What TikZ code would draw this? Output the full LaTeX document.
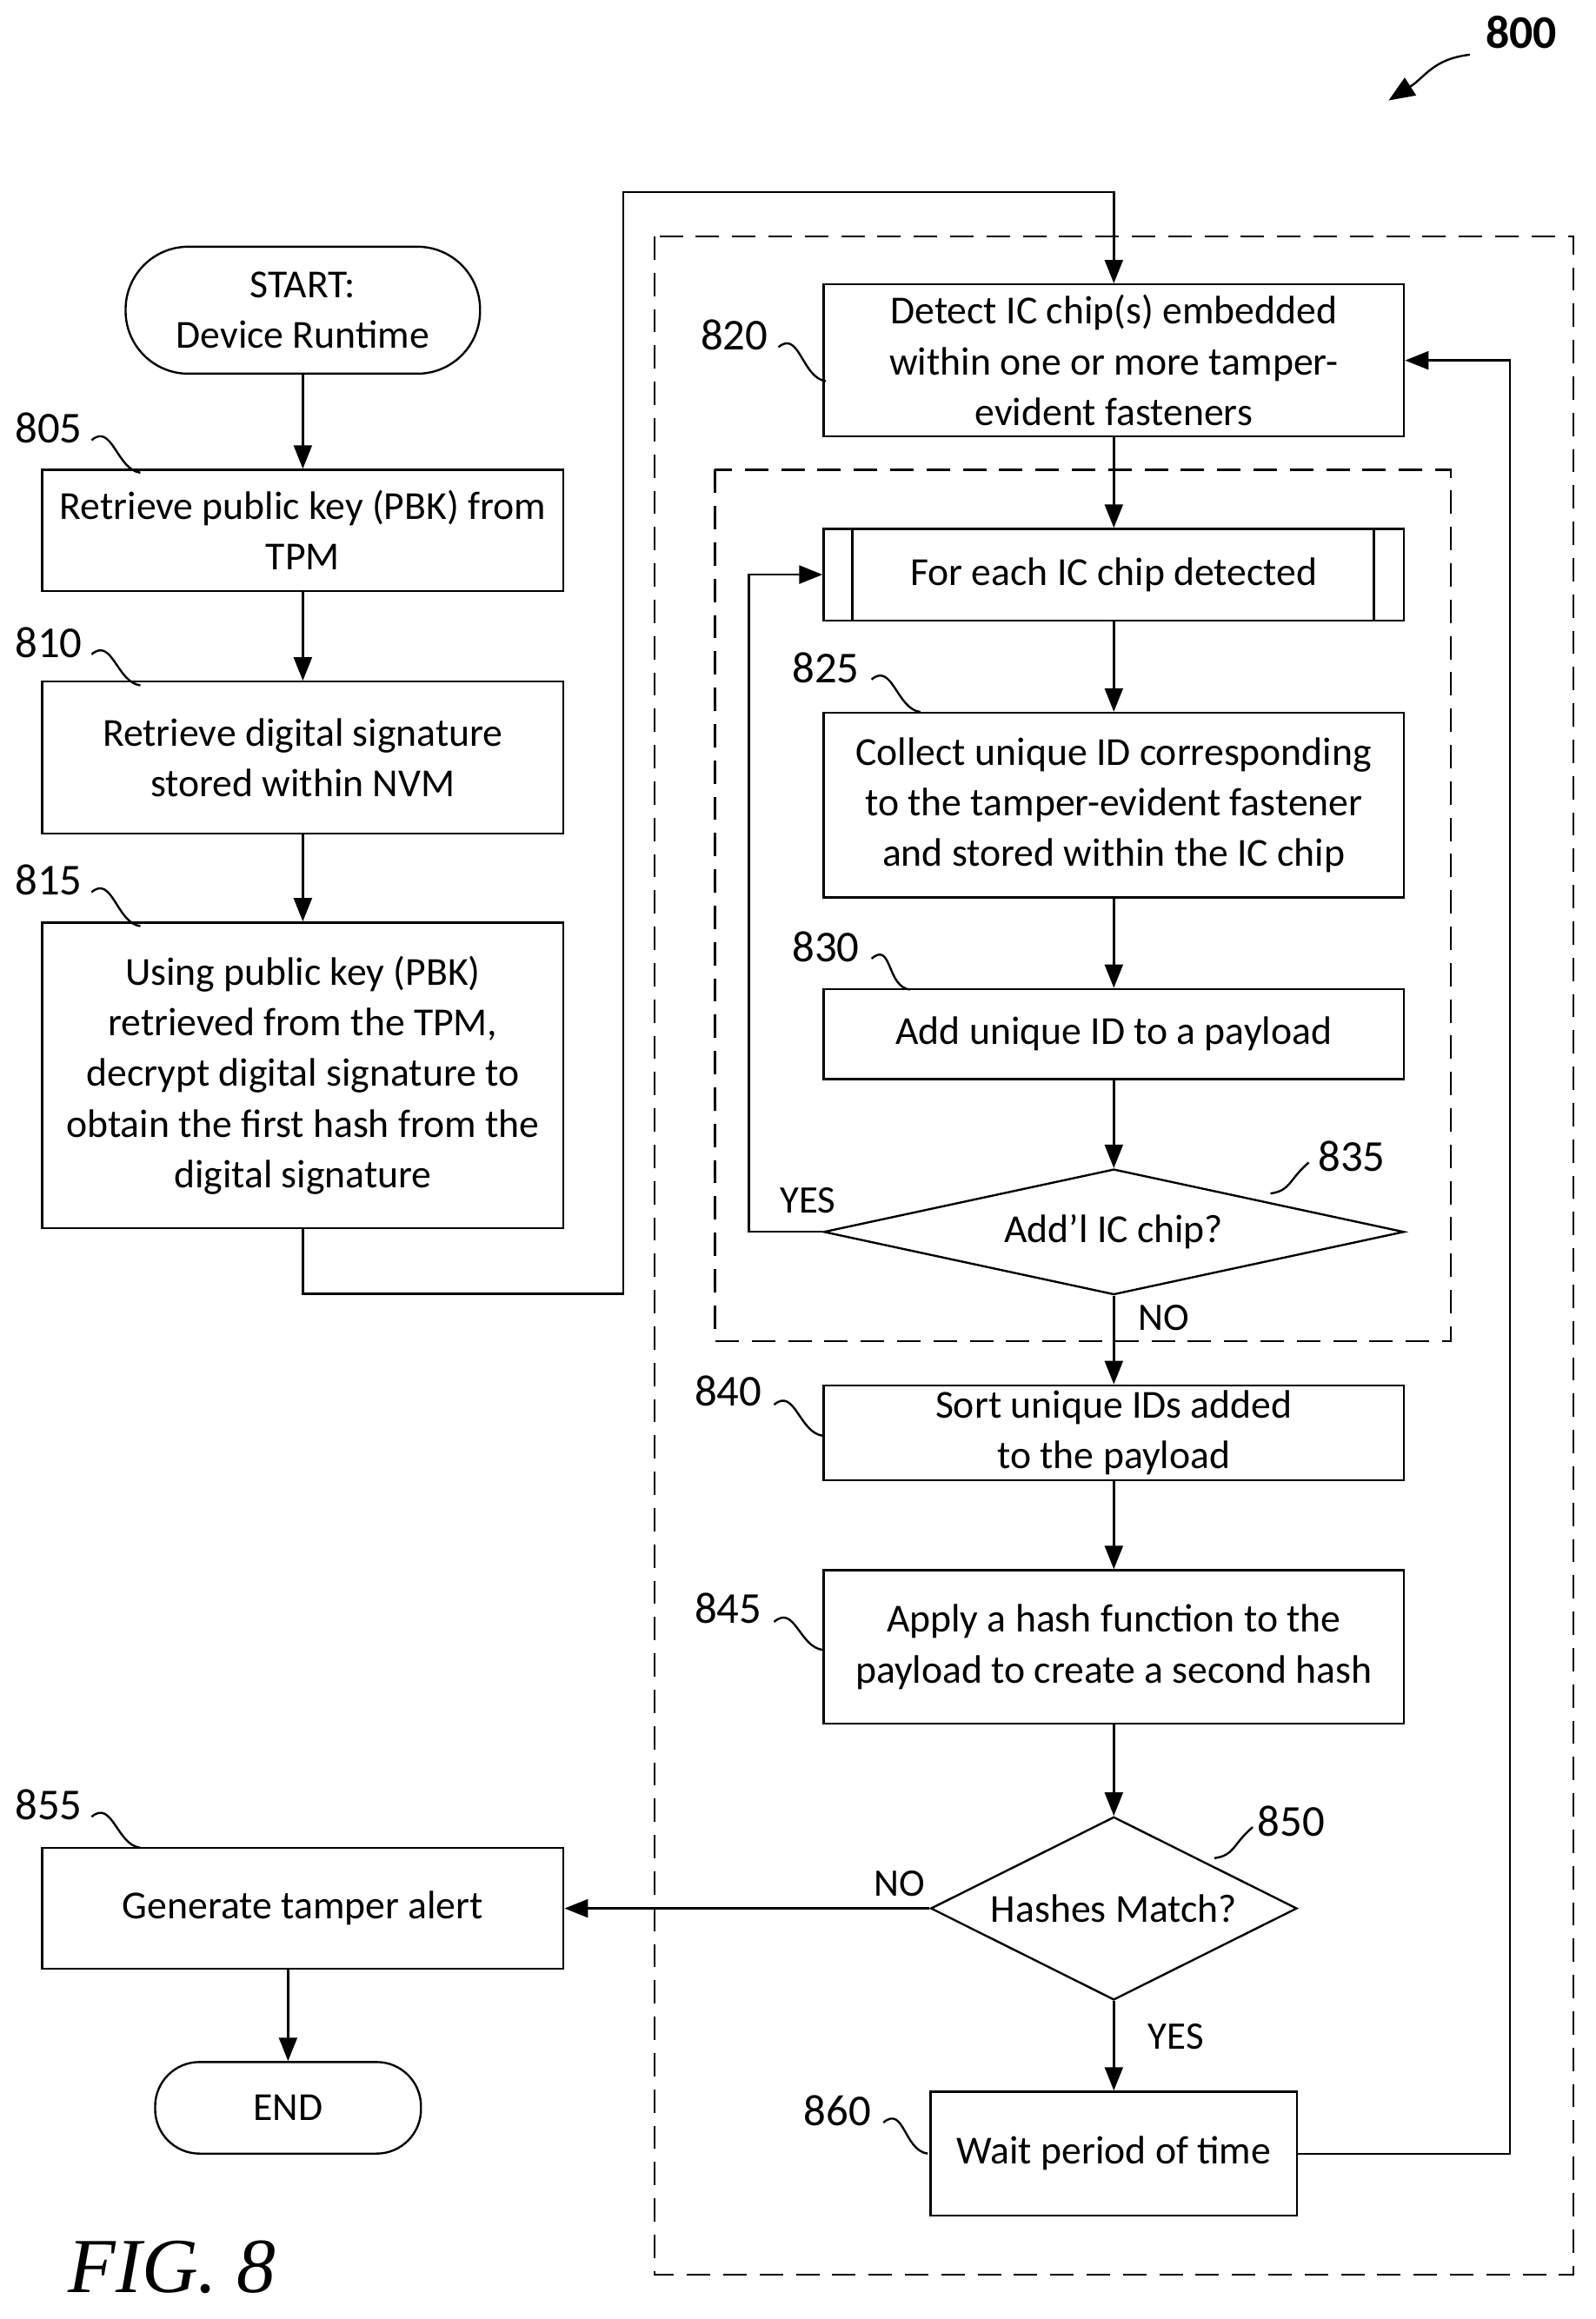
\documentclass[tikz,border=0pt]{standalone}
\usepackage{fontspec}
\setmainfont{Carlito}
\usetikzlibrary{arrows.meta,shapes.geometric,positioning}
\tikzset{
  box/.style={draw,thick,align=center,font=\fontsize{15.3}{19.5}\selectfont,inner sep=2pt},
  term/.style={box,rounded corners=0.85cm},
  dec/.style={draw,thick,diamond,aspect=2.4,align=center,font=\fontsize{15.3}{19.5}\selectfont,inner sep=0pt},
  flow/.style={thick,-{Triangle[length=9pt,width=7pt]}},
  frame/.style={thick,dash pattern=on 9pt off 5pt},
  lbl/.style={font=\fontsize{15}{18}\selectfont},
  num/.style={font=\fontsize{17}{20}\selectfont},
  lead/.style={thick}
}
\newcommand{\leader}[2]{\draw[lead] (#1) .. controls +(14,-12) and +(-16,-2) .. (#2);}
\begin{document}
\begin{tikzpicture}[x=0.02cm,y=-0.02cm]
\useasboundingbox (0,0) rectangle (1080,1570);
% frames
\draw[frame] (443,160) rectangle (1065,1540);
\draw[frame] (484,318) rectangle (982,908);
% left column
\node[term,minimum width=4.8cm,minimum height=1.72cm] (start) at (205,210) {START:\\Device Runtime};
\node[box,minimum width=7.06cm,minimum height=1.64cm] (805) at (205,359) {Retrieve public key (PBK) from\\TPM};
\node[box,minimum width=7.06cm,minimum height=2.06cm] (810) at (205,513) {Retrieve digital signature\\stored within NVM};
\node[box,minimum width=7.06cm,minimum height=4.14cm] (815) at (205,728) {Using public key (PBK)\\retrieved from the TPM,\\decrypt digital signature to\\obtain the first hash from the\\digital signature};
\node[box,minimum width=7.06cm,minimum height=1.64cm] (855) at (205,1292) {Generate tamper alert};
\node[term,minimum width=3.6cm,minimum height=1.24cm,rounded corners=0.6cm] (end) at (195,1427) {END};
% right column
\node[box,minimum width=7.86cm,minimum height=2.06cm] (820) at (754,244) {Detect IC chip(s) embedded\\within one or more tamper-\\evident fasteners};
\node[box,minimum width=7.86cm,minimum height=1.24cm] (each) at (754,389) {For each IC chip detected};
\draw[thick] (577,358) -- (577,420) (930,358) -- (930,420);
\node[box,minimum width=7.86cm,minimum height=2.5cm] (825) at (754,545) {Collect unique ID corresponding\\to the tamper-evident fastener\\and stored within the IC chip};
\node[box,minimum width=7.86cm,minimum height=1.22cm] (830) at (754,700) {Add unique ID to a payload};
\node[dec,minimum width=7.86cm,minimum height=1.66cm] (835) at (754,834) {Add’l IC chip?};
\node[box,minimum width=7.86cm,minimum height=1.26cm] (840) at (754,970) {Sort unique IDs added\\to the payload};
\node[box,minimum width=7.86cm,minimum height=2.08cm] (845) at (754,1115) {Apply a hash function to the\\payload to create a second hash};
\node[dec,minimum width=4.96cm,minimum height=2.48cm,aspect=2] (850) at (754,1292) {Hashes Match?};
\node[box,minimum width=4.96cm,minimum height=1.68cm] (860) at (754,1458) {Wait period of time};
% connectors
\draw[flow] (start) -- (805);
\draw[flow] (805) -- (810);
\draw[flow] (810) -- (815);
\draw[flow] (815.south) |- (422,876) |- (754,130) -- (820.north);
\draw[flow] (820) -- (each);
\draw[flow] (each) -- (825);
\draw[flow] (825) -- (830);
\draw[flow] (830) -- (835);
\draw[flow] (835.west) -| (507,389) -- (each.west);
\draw[flow] (835.south) -- (840);
\draw[flow] (840) -- (845);
\draw[flow] (845) -- (850);
\draw[flow] (850.west) -- (855.east);
\draw[flow] (195,1333) -- (end);
\draw[flow] (850.south) -- (860);
\draw[flow] (860.east) -| (1022,244) -- (820.east);
% branch labels
\node[lbl] (yes1) at (547,813) {YES};
\node[lbl] (no1) at (788,892) {NO};
\node[lbl] (no2) at (609,1275) {NO};
\node[lbl] (yes2) at (796,1379) {YES};
% reference numerals
\node[num] (n805) at (33,290) {805};
\node[num] (n810) at (33,435) {810};
\node[num] (n815) at (33,596) {815};
\node[num] (n855) at (33,1222) {855};
\node[num] (n820) at (497,227) {820};
\node[num] (n825) at (559,452) {825};
\node[num] (n830) at (559,641) {830};
\node[num] (n835) at (915,783) {835};
\node[num] (n840) at (493,942) {840};
\node[num] (n845) at (493,1089) {845};
\node[num] (n850) at (874,1233) {850};
\node[num] (n860) at (567,1429) {860};
\node[num,font=\fontsize{18}{20}\selectfont\bfseries] (n800) at (1030,22) {800};
\leader{62,298}{95,320}
\leader{62,443}{95,464}
\leader{62,604}{95,627}
\leader{62,1230}{95,1251}
\leader{527,235}{559,258}
\leader{590,460}{623,482}
\leader{590,649}{616,670}
\draw[lead] (860,808) .. controls +(14,-2) and +(-14,12) .. (886,787);
\leader{524,951}{557,972}
\leader{524,1098}{557,1117}
\draw[lead] (822,1258) .. controls +(14,-2) and +(-14,12) .. (848,1237);
\leader{598,1437}{628,1458}
\draw[thick,-{Triangle[length=10pt,width=8pt]}] (995,37) .. controls (970,40) and (965,52) .. (940,68);
\node[font=\fontsize{30}{32}\selectfont\itshape,anchor=west] (fig) at (40,1535) {\fontspec{Liberation Serif}FIG. 8};
\end{tikzpicture}
\end{document}
